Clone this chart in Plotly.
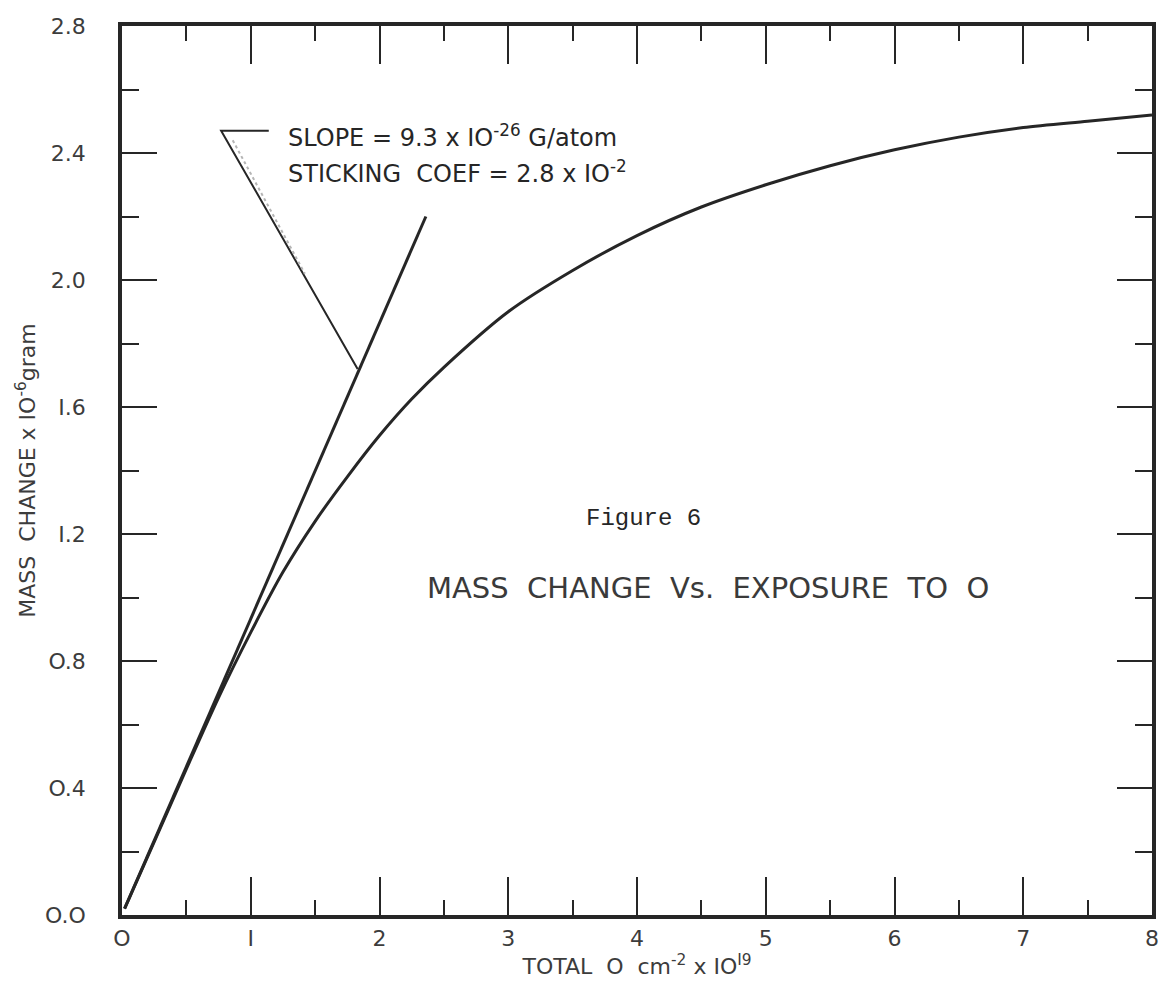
import plotly.graph_objects as go

# ---- data ----
exposure = [0.02, 0.25, 0.5, 0.75, 1.0, 1.25, 1.5, 1.75, 2.0, 2.25, 2.5, 3.0, 3.5,
            4.0, 4.5, 5.0, 5.5, 6.0, 6.5, 7.0, 7.5, 8.0]
mass_change = [0.02, 0.23, 0.46, 0.685, 0.89, 1.08, 1.24, 1.38, 1.51, 1.625, 1.725, 1.90, 2.03,
               2.14, 2.23, 2.30, 2.36, 2.41, 2.45, 2.48, 2.50, 2.52]

tangent_x = [0.02, 2.36]
tangent_y = [0.02, 2.20]

callout_x = [1.14, 0.77, 1.83]
callout_y = [2.47, 2.47, 1.72]

callout_shadow_x = [0.86, 1.42]
callout_shadow_y = [2.44, 2.02]

x_ticks = [0, 1, 2, 3, 4, 5, 6, 7, 8]
x_ticklabels = ["O", "I", "2", "3", "4", "5", "6", "7", "8"]
y_ticks = [0.0, 0.4, 0.8, 1.2, 1.6, 2.0, 2.4, 2.8]
y_ticklabels = ["O.O", "O.4", "O.8", "I.2", "I.6", "2.0", "2.4", "2.8"]

INK = "#262626"
LABEL = "#3c3c3c"
FONT = "DejaVu Sans"

fig = go.Figure()
fig.add_trace(go.Scatter(x=exposure, y=mass_change, mode="lines",
                         line=dict(color=INK, width=3, shape="spline", smoothing=0.8),
                         hoverinfo="skip", showlegend=False))
fig.add_trace(go.Scatter(x=tangent_x, y=tangent_y, mode="lines",
                         line=dict(color=INK, width=3),
                         hoverinfo="skip", showlegend=False))
fig.add_trace(go.Scatter(x=callout_x, y=callout_y, mode="lines",
                         line=dict(color=INK, width=2),
                         hoverinfo="skip", showlegend=False))
fig.add_trace(go.Scatter(x=callout_shadow_x, y=callout_shadow_y, mode="lines",
                         line=dict(color="#b5b5b5", width=2, dash="dot"),
                         hoverinfo="skip", showlegend=False))

fig.add_annotation(x=1.27, y=2.455, xref="x", yref="y", xanchor="left", yanchor="middle",
                   text="SLOPE = 9.3 x IO<sup>-26</sup> G/atom", showarrow=False,
                   font=dict(family=FONT, size=24, color=INK))
fig.add_annotation(x=1.27, y=2.34, xref="x", yref="y", xanchor="left", yanchor="middle",
                   text="STICKING  COEF = 2.8 x IO<sup>-2</sup>", showarrow=False,
                   font=dict(family=FONT, size=24, color=INK))
fig.add_annotation(x=4.05, y=1.25, xref="x", yref="y", xanchor="center", yanchor="middle",
                   text="Figure 6", showarrow=False,
                   font=dict(family="Liberation Mono", size=24, color=INK))
fig.add_annotation(x=4.55, y=1.03, xref="x", yref="y", xanchor="center", yanchor="middle",
                   text="MASS  CHANGE  Vs.  EXPOSURE  TO  O", showarrow=False,
                   font=dict(family=FONT, size=29, color="#3a3a3a"))

fig.update_xaxes(range=[0, 8], tickmode="array", tickvals=x_ticks, ticktext=x_ticklabels,
                 ticks="inside", ticklen=38, tickwidth=2, tickcolor=INK,
                 minor=dict(dtick=0.5, tick0=0, ticks="inside", ticklen=15, tickwidth=2, tickcolor=INK),
                 showline=True, linewidth=3.5, linecolor=INK, mirror="ticks",
                 showgrid=False, zeroline=False, ticklabelstandoff=1,
                 tickfont=dict(family=FONT, size=22, color=LABEL),
                 title=dict(text="TOTAL  O  cm<sup>-2</sup> x IO<sup>I9</sup>",
                            font=dict(family=FONT, size=22, color=LABEL), standoff=6))
fig.update_yaxes(range=[0, 2.8], tickmode="array", tickvals=y_ticks, ticktext=y_ticklabels,
                 ticks="inside", ticklen=35, tickwidth=2, tickcolor=INK,
                 minor=dict(dtick=0.2, tick0=0, ticks="inside", ticklen=17, tickwidth=2, tickcolor=INK),
                 showline=True, linewidth=3.5, linecolor=INK, mirror="ticks",
                 showgrid=False, zeroline=False, ticklabelstandoff=28,
                 tickfont=dict(family=FONT, size=22, color=LABEL),
                 title=dict(text="MASS  CHANGE x IO<sup>-6</sup>gram",
                            font=dict(family=FONT, size=22, color=LABEL), standoff=4))

# figure sized slightly under the 1173x1001 window so the page has no scroll bars
fig.update_layout(width=1157, height=985,
                  margin=dict(l=114, r=6, t=18, b=78),
                  paper_bgcolor="white", plot_bgcolor="white",
                  showlegend=False)

fig.write_html("out.html")
